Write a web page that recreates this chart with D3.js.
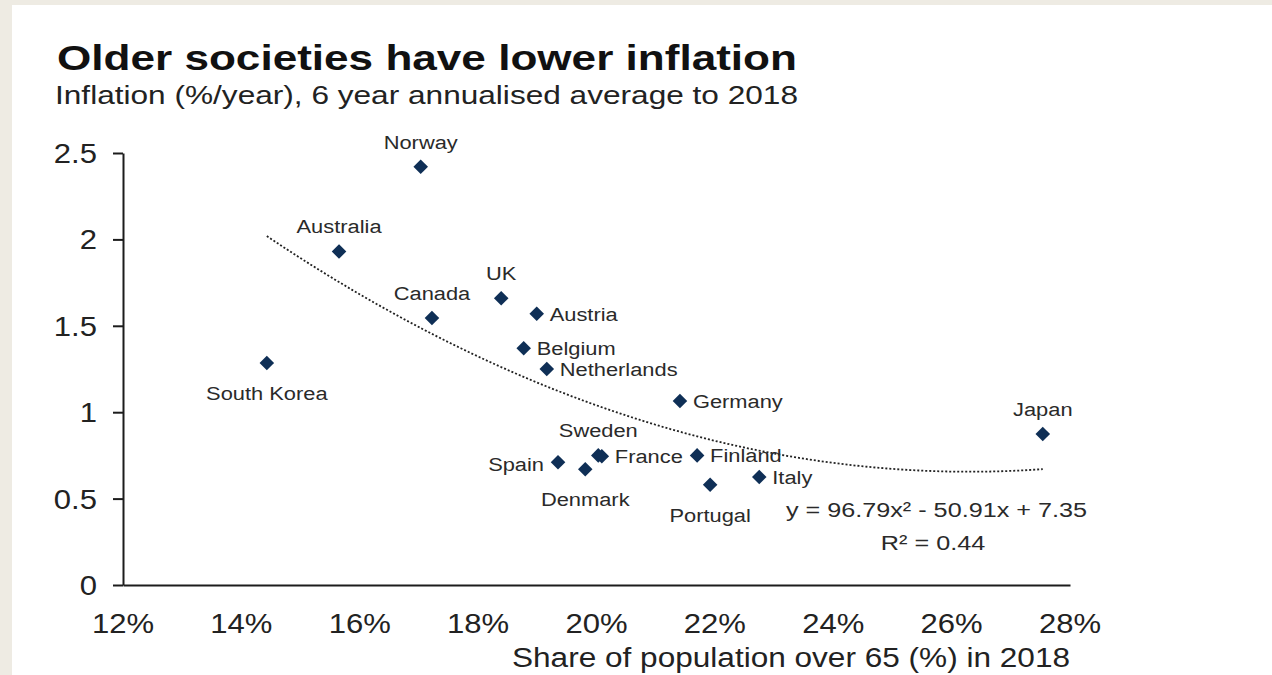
<!DOCTYPE html>
<html>
<head>
<meta charset="utf-8">
<script src="https://cdn.jsdelivr.net/npm/d3@7"></script>
<style>
  html, body { margin: 0; padding: 0; background: #eeebe3; }
  svg { display: block; }
  text { font-family: "Liberation Sans", Arial, sans-serif; }
</style>
</head>
<body>
<svg id="chart" width="1272" height="675"></svg>
<script>
// ---- data ----
const countries = ["Norway","Australia","Canada","UK","Austria","Belgium","Netherlands","Germany","South Korea","Japan","Sweden","France","Spain","Denmark","Finland","Portugal","Italy"];
const share65   = [17.03, 15.65, 17.22, 18.39, 18.99, 18.77, 19.16, 21.41, 14.43, 27.54, 20.03, 20.09, 19.35, 19.81, 21.70, 21.92, 22.75];
const inflation = [2.42, 1.93, 1.545, 1.66, 1.57, 1.37, 1.25, 1.065, 1.285, 0.874, 0.75, 0.745, 0.71, 0.67, 0.75, 0.58, 0.625];
const xTicks = [12, 14, 16, 18, 20, 22, 24, 26, 28];
const yTicks = [0, 0.5, 1, 1.5, 2, 2.5];
const trendCoef = [96.79, -50.91, 7.35]; // y = a x^2 + b x + c, x as fraction
const titleText = "Older societies have lower inflation";
const subtitleText = "Inflation (%/year), 6 year annualised average to 2018";
const xAxisTitle = "Share of population over 65 (%) in 2018";
const equationText = "y = 96.79x\u00B2 - 50.91x + 7.35";
const r2Text = "R\u00B2 = 0.44";

// label placement (layout, not data)
const labelSide = {
  "Norway":"above","Australia":"above","Canada":"above","UK":"above","Sweden":"above","Japan":"above",
  "South Korea":"below","Denmark":"below","Portugal":"below",
  "Austria":"right","Belgium":"right","Netherlands":"right","Germany":"right","France":"right","Finland":"right","Italy":"right",
  "Spain":"left"
};

const svg = d3.select("#chart");
svg.append("rect").attr("x", 12).attr("y", 5).attr("width", 1272 - 12).attr("height", 675 - 5).attr("fill", "#ffffff");

const x = d3.scaleLinear().domain([12, 28]).range([123, 1070]);
const y = d3.scaleLinear().domain([0, 2.5]).range([585, 153]);

const ink = "#1c1c1c";
const SX = 1.15; // horizontal stretch of the reference image text

function stretchText(g, tx, ty, str, opts) {
  const t = g.append("g").attr("transform", `translate(${tx},${ty}) scale(${opts.sx || SX},1)`)
    .append("text")
    .attr("x", 0).attr("y", 0)
    .attr("text-anchor", opts.anchor || "start")
    .attr("font-size", opts.size)
    .attr("font-weight", opts.weight || "normal")
    .attr("fill", opts.fill || ink)
    .text(str);
  return t;
}

// title & subtitle
svg.append("text").attr("x", 57).attr("y", 70)
  .attr("font-size", 35).attr("font-weight", "bold").attr("fill", "#111")
  .attr("textLength", 740).attr("lengthAdjust", "spacingAndGlyphs")
  .text(titleText);
svg.append("text").attr("x", 55).attr("y", 104)
  .attr("font-size", 26).attr("fill", "#222")
  .attr("textLength", 743).attr("lengthAdjust", "spacingAndGlyphs")
  .text(subtitleText);

// axes
const gy = svg.append("g").attr("transform", `translate(${x(12)},0)`)
  .call(d3.axisLeft(y).tickValues(yTicks).tickSize(10).tickSizeOuter(0).tickFormat(""));
const gx = svg.append("g").attr("transform", `translate(0,${y(0)})`)
  .call(d3.axisBottom(x).tickValues(xTicks).tickSize(0).tickSizeOuter(0).tickFormat(""));
[gx, gy].forEach(g => {
  g.selectAll("path.domain").attr("stroke", ink).attr("stroke-width", 2);
  g.selectAll(".tick line").attr("stroke", ink).attr("stroke-width", 2);
});

// tick labels
const labels = svg.append("g");
yTicks.forEach(v => stretchText(labels, x(12) - 26, y(v) + 10, d3.format("~g")(v), {size: 27, anchor: "end", fill: "#222"}));
xTicks.forEach(v => stretchText(labels, x(v), y(0) + 48, v + "%", {size: 27, anchor: "middle", fill: "#222"}));

// x axis title
svg.append("text").attr("x", 512).attr("y", 667)
  .attr("font-size", 27).attr("fill", "#222")
  .attr("textLength", 558).attr("lengthAdjust", "spacingAndGlyphs")
  .text(xAxisTitle);

// trend line
const xmin = d3.min(share65), xmax = d3.max(share65);
const trendPts = d3.range(0, 101).map(i => {
  const xv = xmin + (xmax - xmin) * i / 100;
  const f = xv / 100;
  return [xv, trendCoef[0] * f * f + trendCoef[1] * f + trendCoef[2]];
});
svg.append("path")
  .attr("d", d3.line().x(d => x(d[0])).y(d => y(d[1]))(trendPts))
  .attr("fill", "none").attr("stroke", "#222").attr("stroke-width", 1.8)
  .attr("stroke-dasharray", "2,2");

// points
const pts = countries.map((c, i) => ({c, sx: share65[i], inf: inflation[i]}));
const sym = d3.symbol().type(d3.symbolDiamond2).size(135);
svg.append("g").selectAll("path").data(pts).join("path")
  .attr("d", sym)
  .attr("transform", d => `translate(${x(d.sx)},${y(d.inf)})`)
  .attr("fill", "#0f2f56");

// point labels
const pl = svg.append("g");
pts.forEach(d => {
  const px = x(d.sx), py = y(d.inf);
  const side = labelSide[d.c];
  let tx = px, ty = py, anchor = "middle";
  if (side === "above") { ty = py - 18; }
  else if (side === "below") { ty = py + 37; }
  else if (side === "right") { tx = px + 13; ty = py + 7; anchor = "start"; }
  else if (side === "left") { tx = px - 14; ty = py + 9; anchor = "end"; }
  stretchText(pl, tx, ty, d.c, {size: 19, anchor, fill: "#2a2a2a"});
});

// equation
stretchText(svg, 1087, 517, equationText, {size: 21, anchor: "end", sx: 1.2, fill: "#2a2a2a"});
stretchText(svg, 933, 550, r2Text, {size: 21, anchor: "middle", sx: 1.2, fill: "#2a2a2a"});
</script>
</body>
</html>
